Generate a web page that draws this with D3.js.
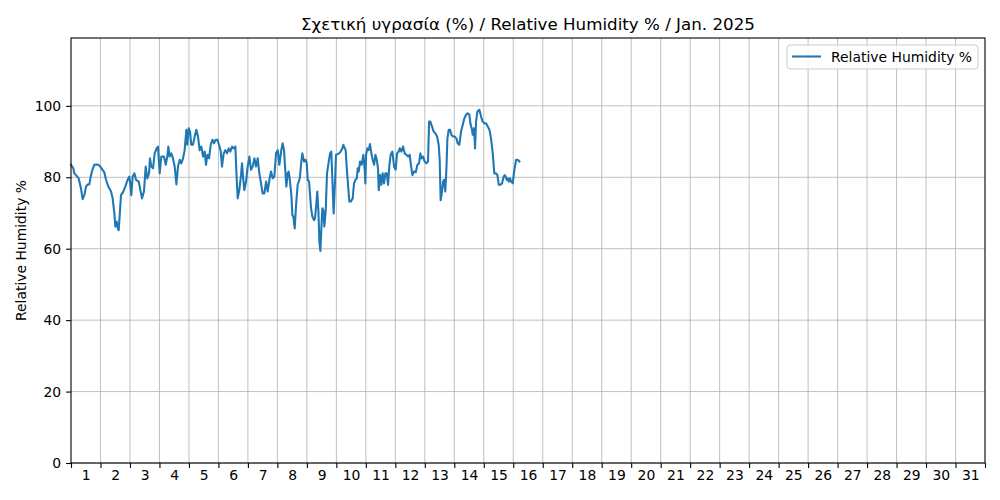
<!DOCTYPE html>
<html>
<head>
<meta charset="utf-8">
<script src="https://cdn.jsdelivr.net/npm/d3@7"></script>
<style>
  html, body { margin: 0; padding: 0; background: #fff; }
  svg { display: block; font-family: "DejaVu Sans", sans-serif; }
</style>
</head>
<body>
<svg id="chart" width="1000" height="500"></svg>
<script>
// ---- Data (hours since 2025-01-01 00:00, relative humidity %) ----
const hours = [
  0,1.9,2.7,4.1,6.2,8.1,9.5,10.9,12.2,13.6,14.9,16.3,17.6,19,20.4,22.3,23.9,25.8,27.1,28.5,30.4,32.6,33.9,35.3,36.1,37.2,38,38.8,39.3,40.7,42.6,44.2,46.1,47.5,48.3,49.1,50.2,51.6,52.9,55.1,57,57.8,
  59.4,60.8,62.1,63.5,64.3,65.4,66.8,68.1,69.7,70.8,72.2,73.5,75.7,77.1,78.4,79.2,80.3,81.7,83.0,84.4,85.8,87.1,88.5,89.8,91.2,92.5,93.9,94.7,95.8,96.9,97.9,99.3,100.7,102.0,103.4,104.7,106.1,107.5,108.8,109.9,111.0,112.4,113.7,115.1,116.4,117.8,119.1,120.5,121.9,
  122.9,124.3,125.6,127.0,128.4,129.7,131.1,132.4,133.8,134.6,135.7,137.0,138.4,139.2,140.0,141.1,142.5,143.8,145.2,146.5,147.9,149.3,150.6,152.0,153.3,154.7,156.0,157.4,158.8,160.1,161.5,162.8,164.2,165.5,166.9,168.3,169.6,171.0,172.3,173.4,174.5,175.3,176.4,177.2,178.0,179.4,180.2,181.0,182.1,183.2,184.5,185.9,
  186.4,187.2,188.3,189.7,191.0,191.9,192.7,193.8,194.6,195.4,196.5,197.8,198.6,199.5,200.5,201.4,202.2,203.0,203.8,204.6,205.4,206.2,207.3,208.4,209.8,210.9,211.9,212.8,213.8,214.9,215.7,216.8,218.2,219.5,220.9,221.7,222.8,223.6,224.4,225.5,226.6,227.9,229.3,230.4,231.5,232.6,233.4,234.2,235.3,236.6,238.0,239.1,239.6,240.2,241.3,242.3,243.4,244.5,245.6,246.7,247.8,248.9,249.9,
  250.5,251.6,252.6,253.7,254.8,255.9,257.0,258.1,259.2,260.2,261.6,263.0,264.3,265.4,266.8,267.6,268.9,270.3,271.6,273.0,274.4,275.7,276.5,277.9,279.2,280.6,282.0,283.3,284.4,285.2,286.6,287.9,289.3,290.6,291.5,292.5,293.9,295.2,296.6,298.0,299.3,300.1,300.9,302.0,302.9,303.7,304.7,305.6,306.4,307.5,308.6,309.6,311.0,312.4,313.7,
  314.8,316.1,317.5,318.9,320.2,321.6,322.9,324.3,325.1,326.2,327.0,328.1,328.9,329.7,330.8,332.4,333.8,335.1,336.5,337.9,339.2,340.6,341.9,343.3,344.6,346.0,347.1,348.2,349.5,350.9,352.2,353.3,354.7,355.5,356.3,357.4,358.2,359.6,360.7,362.3,363.6,365.0
];
const humidity = [
  83.5,82.5,81.1,80.6,79.7,76.9,73.9,75,77.4,78,78,80.6,82.3,83.5,83.6,83.5,83,82,81.4,79.3,77.4,76,74.1,69.9,66.2,67.6,65.7,65.2,67.6,75,76,77.4,79.3,80.2,77.9,75,80.2,81.1,79.3,78.8,75.5,74.1,
  76,83,79.7,81.1,85.3,83,82.5,86.7,88.1,88.6,81.1,85.8,85.8,83.5,85.8,88.6,85.8,86.7,85.3,83,78,83,84.9,83.9,85.3,87.6,93.3,89.1,93.7,92.8,89.1,89.1,91.4,93.3,91.4,87.6,88.6,85.8,87.2,83.5,86.3,85.3,89.1,90.5,89.5,90.5,90.5,89.1,87.2,
  83,86.7,87.6,86.7,88.1,87.2,88.6,88.1,88.6,81.6,74.1,76.4,80.6,83.9,80.2,76.4,78.8,83,85.8,82.1,83,85.3,83,85.3,81.1,78.3,75.5,75.5,78.8,76,79.3,81.6,79.7,80.2,86.7,87.6,83.5,87.2,89.5,87.6,81.6,77.4,81.1,81.6,79.7,75,69.4,69,65.7,72.2,77.9,79.3,
  80.2,83.5,86.7,84.4,84.9,83.9,79.3,78.8,75,71.3,69,68,68.5,71.8,76,70.4,62,59.4,65.7,71.3,70.8,66.2,70.4,81.1,84.4,86.7,87.2,78.8,69.9,78.8,86.3,86.4,86.7,87.2,88.1,89.1,88.1,87.6,83,77.9,73.2,73.2,74.1,78.3,79.3,79.7,82.5,81.6,84.4,83.5,86.3,82.1,78.3,86.3,88.1,87.6,89.3,86.7,84.9,83.5,86.3,84.9,82.5,
  76.4,80.6,77.9,81.1,78.3,81.1,81.1,77.9,83.5,86.3,87.2,83,82.1,86.7,87.2,88.1,87.2,88.6,86.7,86.3,85.8,86.3,83.9,80.6,81.6,81.4,83.5,83.9,86.7,85.3,85.8,84.4,83.9,84.4,95.6,95.6,94.2,92.8,92.3,91.4,89.1,84.9,73.6,76,78.8,79.3,76,82.5,90.9,93.3,93.3,91.9,91.4,91.4,90.9,
  89.5,89.1,92.8,94.7,96.5,97.5,97.9,97.5,95.1,93.7,91.9,93.7,88.1,95.6,98.4,98.9,97,95.6,95.1,95.1,94.2,93.3,90.9,86.7,81.1,81.1,80.6,77.9,77.9,78.3,80.2,80.6,79.3,79.7,78.8,79.7,78.8,78.3,81.6,84.9,84.9,84.4
];
const dayLabels = d3.range(1, 32).map(String);
const yTicks = [0, 20, 40, 60, 80, 100];
const titleText = "Σχετική υγρασία (%) / Relative Humidity % / Jan. 2025";
const yLabelText = "Relative Humidity %";
const seriesName = "Relative Humidity %";

// ---- Layout ----
const W = 1000, H = 500;
const m = { left: 71, right: 985, top: 38, bottom: 463 };
const svg = d3.select("#chart");

const t0 = Date.UTC(2025, 0, 1);
const x = d3.scaleUtc()
  .domain([new Date(t0), new Date(Date.UTC(2025, 1, 1))])
  .range([m.left, m.right]);
const y = d3.scaleLinear().domain([0, 119]).range([m.bottom, m.top]);

const data = hours.map((h, i) => ({ t: new Date(t0 + h * 3600e3), v: humidity[i] }));
const dayStarts = d3.range(0, 32).map(d => new Date(t0 + d * 86400e3));
const dayNoons = dayLabels.map((s, i) => new Date(t0 + (i + 0.5) * 86400e3));

// Grid
const grid = svg.append("g").attr("stroke", "#b0b0b0").attr("stroke-width", 0.8);
grid.selectAll("line.v").data(dayStarts.slice(1, -1)).join("line")
  .attr("x1", d => x(d)).attr("x2", d => x(d))
  .attr("y1", m.top).attr("y2", m.bottom);
grid.selectAll("line.h").data(yTicks).join("line")
  .attr("x1", m.left).attr("x2", m.right)
  .attr("y1", d => y(d)).attr("y2", d => y(d));

// Line
const line = d3.line().x(d => x(d.t)).y(d => y(d.v));
svg.append("path").datum(data)
  .attr("fill", "none").attr("stroke", "#1f77b4")
  .attr("stroke-width", 2.08).attr("stroke-linejoin", "round").attr("stroke-linecap", "square")
  .attr("d", line);

// Axes
const xMajor = d3.axisBottom(x).tickValues(dayStarts).tickFormat("").tickSize(4.9).tickSizeOuter(0);
const gx = svg.append("g").attr("transform", `translate(0,${m.bottom})`).call(xMajor);
gx.select(".domain").remove();
gx.selectAll(".tick line").attr("stroke", "#000").attr("stroke-width", 1.1);

const xMinor = d3.axisBottom(x).tickValues(dayNoons).tickFormat((d, i) => dayLabels[i]).tickSize(0).tickPadding(7);
const gx2 = svg.append("g").attr("transform", `translate(0,${m.bottom})`).call(xMinor);
gx2.select(".domain").remove();
gx2.selectAll("text").attr("font-size", 13.9).attr("fill", "#000").attr("font-family", "DejaVu Sans");

const yAxis = d3.axisLeft(y).tickValues(yTicks).tickSize(4.9).tickPadding(4.9).tickSizeOuter(0);
const gy = svg.append("g").attr("transform", `translate(${m.left},0)`).call(yAxis);
gy.select(".domain").remove();
gy.selectAll(".tick line").attr("stroke", "#000").attr("stroke-width", 1.1);
gy.selectAll("text").attr("font-size", 13.9).attr("fill", "#000").attr("font-family", "DejaVu Sans");

// Frame
svg.append("rect").attr("x", m.left).attr("y", m.top)
  .attr("width", m.right - m.left).attr("height", m.bottom - m.top)
  .attr("fill", "none").attr("stroke", "#000").attr("stroke-width", 1.1);

// Title
svg.append("text").attr("x", (m.left + m.right) / 2).attr("y", 30)
  .attr("text-anchor", "middle").attr("font-size", 16.7).attr("fill", "#000")
  .text(titleText);

// Y label
svg.append("text")
  .attr("transform", `translate(26,${(m.top + m.bottom) / 2}) rotate(-90)`)
  .attr("text-anchor", "middle").attr("font-size", 13.9).attr("fill", "#000")
  .text(yLabelText);

// Legend
const lg = svg.append("g");
lg.append("rect").attr("x", 787).attr("y", 45).attr("width", 191).attr("height", 24)
  .attr("rx", 3).attr("fill", "#fff").attr("fill-opacity", 0.8)
  .attr("stroke", "#cccccc").attr("stroke-width", 1);
lg.append("line").attr("x1", 792).attr("x2", 821).attr("y1", 56.5).attr("y2", 56.5)
  .attr("stroke", "#1f77b4").attr("stroke-width", 2.08);
lg.append("text").attr("x", 831).attr("y", 61.5).attr("font-size", 13.9).attr("fill", "#000")
  .text(seriesName);
</script>
</body>
</html>
